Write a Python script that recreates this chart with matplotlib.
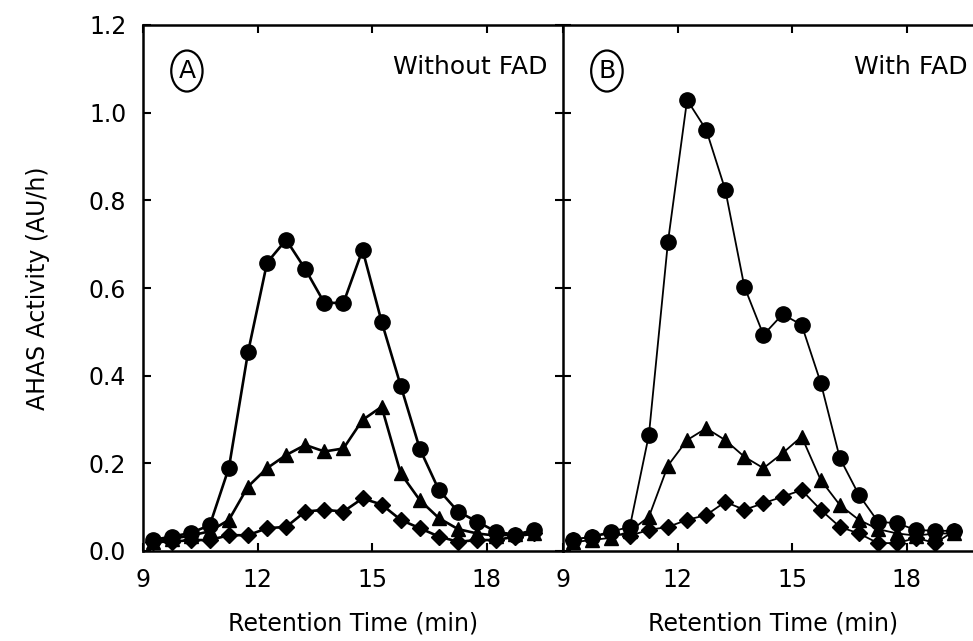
import matplotlib
matplotlib.use("Agg")
import matplotlib.pyplot as plt

# retention times (min), one fraction every 0.5 min
tiempo = [9.25, 9.75, 10.25, 10.75, 11.25, 11.75, 12.25, 12.75, 13.25, 13.75,
          14.25, 14.75, 15.25, 15.75, 16.25, 16.75, 17.25, 17.75, 18.25, 18.75, 19.25]

# panel A - without FAD
circulosA = [0.025, 0.033, 0.041, 0.059, 0.19, 0.453, 0.658, 0.710, 0.643, 0.566, 0.566,
             0.687, 0.523, 0.377, 0.233, 0.139, 0.090, 0.067, 0.044, 0.037, 0.048]
triangulosA = [0.020, 0.028, 0.035, 0.045, 0.071, 0.147, 0.189, 0.219, 0.242, 0.227, 0.234,
               0.299, 0.329, 0.177, 0.116, 0.075, 0.050, 0.040, 0.035, 0.038, 0.040]
rombosA = [0.021, 0.021, 0.025, 0.025, 0.036, 0.036, 0.052, 0.055, 0.090, 0.094, 0.090,
           0.120, 0.106, 0.071, 0.052, 0.033, 0.021, 0.025, 0.025, 0.033, 0.040]

# panel B - with FAD
circulosB = [0.025, 0.033, 0.044, 0.055, 0.265, 0.706, 1.029, 0.961, 0.824, 0.603, 0.493,
             0.540, 0.516, 0.384, 0.212, 0.128, 0.067, 0.063, 0.048, 0.046, 0.046]
triangulosB = [0.020, 0.025, 0.030, 0.045, 0.078, 0.195, 0.253, 0.280, 0.253, 0.215, 0.189,
               0.223, 0.261, 0.162, 0.105, 0.071, 0.050, 0.040, 0.035, 0.040, 0.040]
rombosB = [0.025, 0.033, 0.040, 0.035, 0.048, 0.055, 0.071, 0.082, 0.112, 0.094, 0.109,
           0.124, 0.139, 0.094, 0.055, 0.040, 0.018, 0.018, 0.030, 0.018, 0.046]

xticks = [9, 12, 15, 18]
yticks = [0.0, 0.2, 0.4, 0.6, 0.8, 1.0, 1.2]

plt.rcParams['font.family'] = ['DejaVu Sans']

fig = plt.figure(figsize=(9.73, 6.41), dpi=100)
W, H = 973.0, 641.0
# axes placed in pixels: left spine 143, right 563, top 25, bottom 551
axA = fig.add_axes([143 / W, (H - 551) / H, 420 / W, 526 / H])
axB = fig.add_axes([563 / W, (H - 551) / H, 420 / W, 526 / H])


def panel(ax, circ, tri, rom, lw, letra, texto):
    ax.plot(tiempo, circ, '-o', color='black', lw=lw, ms=11, zorder=3)
    ax.plot(tiempo, tri, '-^', color='black', lw=lw, ms=10, zorder=3)
    ax.plot(tiempo, rom, '-D', color='black', lw=lw, ms=8, zorder=3)
    ax.set_xlim(9, 20)
    ax.set_ylim(0, 1.2)
    ax.set_xticks(xticks)
    ax.set_yticks(yticks)
    for s in ax.spines.values():
        s.set_linewidth(1.8)
    ax.tick_params(axis='both', direction='in', length=6, width=1.5,
                   labelsize=17, top=True)
    ax.tick_params(axis='x', pad=12)
    ax.tick_params(axis='y', pad=12)
    ax.set_xlabel("Retention Time (min)", fontsize=17, labelpad=14)
    ax.text(10.15, 1.095, letra, fontsize=18, ha='center', va='center',
            bbox=dict(boxstyle='ellipse,pad=0.1', fc='white', ec='black', lw=1.6))
    ax.text(19.6, 1.105, texto, fontsize=18, ha='right', va='center')


panel(axA, circulosA, triangulosA, rombosA, 1.9, "A", "Without FAD")
panel(axB, circulosB, triangulosB, rombosB, 1.3, "B", "With FAD")

axA.spines['right'].set_visible(False)
axA.tick_params(axis='y', labelleft=True, right=False)
axA.set_yticklabels(["%.1f" % v for v in yticks])
axA.set_ylabel("AHAS Activity (AU/h)", fontsize=17, labelpad=28)

axB.tick_params(axis='y', direction='inout', length=12, labelleft=False)
axB.spines['right'].set_visible(False)

fig.savefig("out.png", dpi=100)
